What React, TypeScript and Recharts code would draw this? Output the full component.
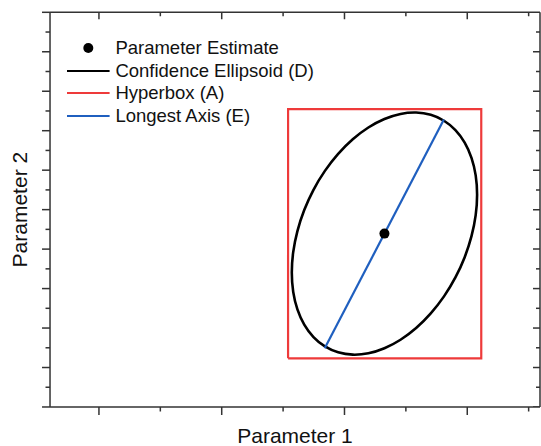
import { ComposedChart, Line, Scatter, XAxis, YAxis, Legend, Label, ReferenceLine } from 'recharts';

const FONT = '"Liberation Sans", Arial, Helvetica, sans-serif';
const AXIS = '#333';
const THIN = 0.01; // axes take no room; the margins hold the frame in place

// axis ranges and ticks (no tick labels in the original)
const xDomain: [number, number] = [0.203, 8.185];
const yDomain: [number, number] = [0, 20];
const xMajor = [1, 3, 5, 7];
const xMinor = [2, 4, 6, 8];
const yMajor = [0, 2, 4, 6, 8, 10, 12, 14, 16, 18, 20];
const yMinor = [1, 3, 5, 7, 9, 11, 13, 15, 17, 19];

const seriesNames = ['Parameter Estimate', 'Confidence Ellipsoid (D)', 'Hyperbox (A)', 'Longest Axis (E)'];

const estimate = [{ x: 5.651, y: 8.785 }];

const ellipsoid = [
  { x: 7.168, y: 10.77 }, { x: 7.145, y: 9.727 }, { x: 7.076, y: 8.654 }, { x: 6.965, y: 7.585 },
  { x: 6.813, y: 6.553 }, { x: 6.626, y: 5.589 }, { x: 6.409, y: 4.722 }, { x: 6.17, y: 3.978 },
  { x: 5.914, y: 3.38 }, { x: 5.651, y: 2.947 }, { x: 5.388, y: 2.691 }, { x: 5.132, y: 2.62 },
  { x: 4.893, y: 2.737 }, { x: 4.676, y: 3.037 }, { x: 4.489, y: 3.512 }, { x: 4.338, y: 4.147 },
  { x: 4.226, y: 4.923 }, { x: 4.157, y: 5.816 }, { x: 4.134, y: 6.8 }, { x: 4.157, y: 7.843 },
  { x: 4.226, y: 8.916 }, { x: 4.338, y: 9.985 }, { x: 4.489, y: 11.017 }, { x: 4.676, y: 11.981 },
  { x: 4.893, y: 12.848 }, { x: 5.132, y: 13.592 }, { x: 5.388, y: 14.19 }, { x: 5.651, y: 14.623 },
  { x: 5.914, y: 14.879 }, { x: 6.17, y: 14.95 }, { x: 6.409, y: 14.833 }, { x: 6.626, y: 14.533 },
  { x: 6.813, y: 14.058 }, { x: 6.965, y: 13.423 }, { x: 7.076, y: 12.647 }, { x: 7.145, y: 11.754 },
];

const hyperbox = [
  { x: 4.081, y: 2.466 }, { x: 7.228, y: 2.466 }, { x: 7.228, y: 15.089 },
  { x: 4.081, y: 15.089 }, { x: 4.081, y: 2.466 },
];

const longestAxis = [{ x: 4.678, y: 2.972 }, { x: 6.619, y: 14.567 }];

// inward ticks on the top and right frame, placed through the scales
const frameTicks = [
  ...xMajor.map((t) => ({ x: t, y: yDomain[1], side: 'top', major: true })),
  ...xMinor.map((t) => ({ x: t, y: yDomain[1], side: 'top', major: false })),
  ...yMajor.map((t) => ({ x: xDomain[1], y: t, side: 'right', major: true })),
  ...yMinor.map((t) => ({ x: xDomain[1], y: t, side: 'right', major: false })),
];

const renderFrameTick = (p: any) => {
  const len = p.payload?.major ? 7 : 4;
  return p.payload?.side === 'top' ? (
    <line x1={p.cx} x2={p.cx} y1={p.cy} y2={p.cy + len} stroke={AXIS} strokeWidth={1.5} />
  ) : (
    <line x1={p.cx} x2={p.cx - len} y1={p.cy} y2={p.cy} stroke={AXIS} strokeWidth={1.5} />
  );
};

const renderLegend = (props: any) => {
  const items = [...(props.payload ?? [])]
    .filter((it: any) => seriesNames.includes(it.value))
    .sort((a: any, b: any) => seriesNames.indexOf(a.value) - seriesNames.indexOf(b.value));
  return (
    <div style={{ fontFamily: FONT, fontSize: 18.5, color: '#111' }}>
      {items.map((it: any) => (
        <div key={it.value} style={{ display: 'flex', alignItems: 'center', height: 22.6 }}>
          <svg width={43} height={12} style={{ display: 'block' }}>
            {it.type === 'circle' ? (
              <circle cx={21.3} cy={6} r={5} fill={it.color} />
            ) : (
              <line x1={0} x2={42.6} y1={6} y2={6} stroke={it.color} strokeWidth={2} />
            )}
          </svg>
          <span style={{ marginLeft: 5.7, whiteSpace: 'nowrap', lineHeight: '22.6px' }}>{it.value}</span>
        </div>
      ))}
    </div>
  );
};

const line = { stroke: AXIS, strokeWidth: 1.5 };
const noLabel = () => '';

export default function App() {
  const [x0, x1] = xDomain;
  const [y0, y1] = yDomain;
  return (
    <div style={{ position: 'fixed', left: 0, top: 0, width: 541, height: 446, overflow: 'hidden', background: '#fff' }}>
      <style>{'html,body{overflow:hidden}'}</style>
      <div style={{ position: 'absolute', left: 8, top: 8 }}>
        <ComposedChart width={533} height={438} margin={{ top: 4.3, right: 1, bottom: 39, left: 42 }}>
          {/* bottom */}
          <XAxis xAxisId="x" dataKey="x" type="number" domain={xDomain} allowDataOverflow ticks={xMajor}
            interval={0} tickFormatter={noLabel} tickSize={8} height={THIN} axisLine={line} tickLine={line}>
            <Label value="Parameter 1" position="bottom" offset={21}
              style={{ fontFamily: FONT, fontSize: 21, fill: '#111', textAnchor: 'middle' }} />
          </XAxis>
          <XAxis xAxisId="xm" dataKey="x" type="number" domain={xDomain} allowDataOverflow ticks={xMinor}
            interval={0} tickFormatter={noLabel} tickSize={4.5} height={THIN} axisLine={false} tickLine={line} />
          {/* left */}
          <YAxis yAxisId="y" type="number" domain={yDomain} allowDataOverflow ticks={yMajor} interval={0}
            tickFormatter={noLabel} tickSize={8} width={THIN} axisLine={line} tickLine={line}>
            <Label value="Parameter 2" angle={-90} position="left" offset={30}
              style={{ fontFamily: FONT, fontSize: 21, fill: '#111', textAnchor: 'middle' }} />
          </YAxis>
          <YAxis yAxisId="ym" type="number" domain={yDomain} allowDataOverflow ticks={yMinor} interval={0}
            tickFormatter={noLabel} tickSize={4.5} width={THIN} axisLine={false} tickLine={line} />

          {/* top and right frame lines */}
          <ReferenceLine xAxisId="x" yAxisId="y" segment={[{ x: x0, y: y1 }, { x: x1, y: y1 }]}
            stroke={AXIS} strokeWidth={1.5} ifOverflow="visible" />
          <ReferenceLine xAxisId="x" yAxisId="y" segment={[{ x: x1, y: y0 }, { x: x1, y: y1 }]}
            stroke={AXIS} strokeWidth={1.5} ifOverflow="visible" />

          <Legend layout="vertical" align="center" verticalAlign="middle" content={renderLegend}
            wrapperStyle={{ left: 58.7, top: 29, width: 'auto' }} />

          <Line xAxisId="x" yAxisId="y" data={ellipsoid} dataKey="y" name="Confidence Ellipsoid (D)"
            type="basisClosed" stroke="#000" strokeWidth={2.6} dot={false} activeDot={false}
            legendType="line" isAnimationActive={false} />
          <Line xAxisId="x" yAxisId="y" data={hyperbox} dataKey="y" name="Hyperbox (A)"
            type="linear" stroke="#ee3a3a" strokeWidth={2.2} dot={false} activeDot={false}
            legendType="line" isAnimationActive={false} />
          <Line xAxisId="x" yAxisId="y" data={longestAxis} dataKey="y" name="Longest Axis (E)"
            type="linear" stroke="#1f5fbf" strokeWidth={2.2} dot={false} activeDot={false}
            legendType="line" isAnimationActive={false} />
          <Scatter xAxisId="x" yAxisId="y" data={frameTicks} dataKey="y" name="frame ticks"
            legendType="none" isAnimationActive={false} shape={renderFrameTick} />
          <Scatter xAxisId="x" yAxisId="y" data={estimate} dataKey="y" name="Parameter Estimate"
            fill="#000" legendType="circle" isAnimationActive={false}
            shape={(p: any) => <circle cx={p.cx} cy={p.cy} r={5} fill="#000" />} />
        </ComposedChart>
      </div>
    </div>
  );
}
